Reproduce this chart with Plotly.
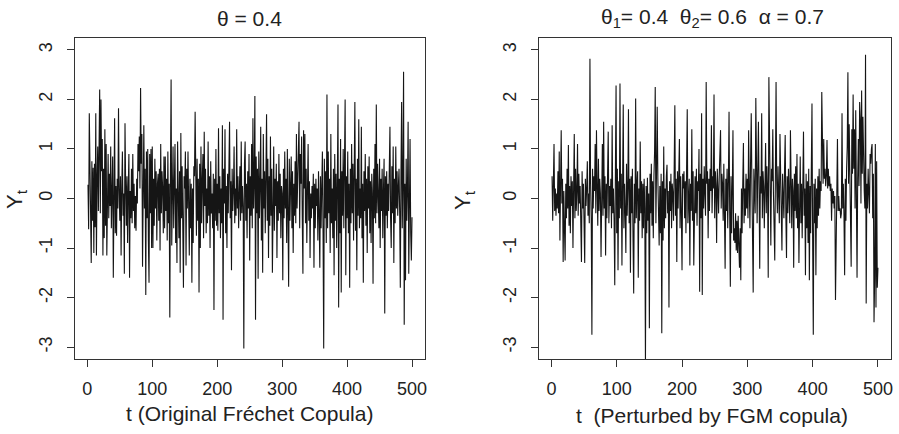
import plotly.graph_objects as go
from plotly.subplots import make_subplots

# time index 1..500
t = list(range(1, 501))

# Y_t, original Frechet copula (20 values per row)
y_frechet = [
    0.28, -0.62, 1.72, 0.15, -0.90, -1.30, 0.75, -0.45, 0.62, -1.10, 0.70, -0.58, 1.72, -1.15, 0.40, 1.05, -0.25, 1.30, 2.20, -0.30,
    2.00, 0.55, 1.20, -1.15, 0.60, -0.80, 1.40, -0.55, 1.10, -1.15, 0.35, 0.90, -0.40, 0.50, -0.15, 1.05, -0.60, 0.20, 0.85, -1.60,
    0.30, 1.62, -0.70, 0.25, -0.75, 0.40, -0.20, 1.82, 0.15, -0.45, 0.45, -1.15, 0.20, 0.95, -0.35, 0.10, -1.52, 1.52, 0.30, -0.55,
    0.45, -0.90, 0.20, 0.90, -1.60, 0.15, -0.40, 0.60, -0.50, 0.90, -0.25, 0.30, -0.60, 0.05, -0.65, 0.40, -0.10, 1.10, 0.55, 1.25,
    0.20, 2.23, 0.70, 1.30, -1.38, 0.45, 1.48, -0.20, 0.60, -1.95, 0.95, -0.40, 1.00, -0.85, -1.70, 0.90, -0.30, 1.00, -1.00, 1.05,
    -1.00, 0.40, -0.55, 0.80, -0.20, 0.55, -0.85, 0.30, 0.50, -0.45, 0.60, -1.05, 1.10, -0.30, 0.55, 0.20, -0.70, 0.85, -0.60, 0.85,
    -0.25, 0.40, -0.85, 0.95, -0.50, 0.30, -2.40, 0.50, 2.40, -0.95, 0.25, 1.05, -0.60, 0.40, 1.10, -0.90, 0.20, -1.30, 1.15, 0.10,
    -0.80, 0.55, -1.50, 1.32, -0.40, 0.65, -1.10, -1.80, 0.45, 0.20, 0.95, -1.35, 0.60, -0.20, 0.95, -0.75, -1.15, 0.40, -0.60, 0.30,
    -1.70, 0.20, -0.90, 0.65, 0.45, 1.75, 0.60, -0.75, 0.80, -0.45, 0.40, -1.90, 0.70, -1.00, 1.05, -0.50, 0.35, 0.90, -0.80, 1.35,
    -0.15, 0.60, -0.70, 0.20, -0.50, 1.15, -0.35, 0.45, -1.00, 0.75, -0.30, 0.10, -0.60, 0.50, -2.25, 0.40, -0.45, 1.00, -0.55, 0.30,
    -0.65, 1.42, -0.30, 0.45, -0.80, 0.20, -0.50, 1.48, -2.45, 0.60, -0.10, 1.40, -0.70, 0.25, -1.00, 0.50, -0.30, 0.80, 1.55, -0.40,
    0.35, -1.45, 0.60, -0.25, 0.15, 1.05, -0.50, 0.20, -0.35, 1.40, -0.20, 0.45, -0.60, 0.10, 0.65, -0.45, 1.15, -0.30, 0.25, -0.15,
    -3.03, 0.70, 1.15, -0.45, 0.30, -0.80, 0.55, -0.20, 0.90, -1.25, 0.45, -0.35, 1.10, -0.60, 1.62, -0.20, 0.40, 2.07, -2.45, 0.85,
    -0.30, 0.60, -1.62, 0.95, -0.40, 0.25, 1.45, -0.85, 0.40, -1.50, 1.30, -0.20, 0.55, -0.70, 0.30, 1.70, -0.45, 0.80, -1.20, 0.45,
    -0.55, 1.25, -0.35, 0.60, -1.50, 0.20, 1.05, -0.65, 0.40, -0.15, 0.70, -1.20, 0.35, -0.45, 0.90, -0.30, 0.50, -0.80, 0.25, 0.10,
    -1.65, 0.60, -0.40, 0.95, -0.20, 0.40, -0.90, 1.00, -0.30, -1.78, 0.80, -0.45, 0.25, 0.85, -0.60, 0.55, -1.10, 0.30, -0.35, 0.75,
    -0.50, 1.30, -0.20, 0.45, 1.00, 1.55, -0.60, 0.90, 0.30, 1.25, -0.40, -1.52, 1.38, 0.20, 1.30, -0.50, 0.60, -0.90, 0.15, 1.10,
    -0.45, 0.35, -1.20, 0.10, -0.40, 0.25, -0.20, 0.50, -1.40, 0.30, -0.60, 0.40, -0.15, 0.20, -0.85, 0.55, -0.30, -1.40, 0.45, -0.60,
    0.25, 0.95, -0.70, -3.03, 0.80, -0.40, 0.55, -0.90, 2.10, -0.60, 0.95, -0.30, 0.40, -1.10, 1.30, -0.50, 0.20, -0.80, 0.60, -1.55,
    0.90, -0.45, 0.50, -1.00, 0.35, 1.90, -2.20, 0.40, -0.70, 1.20, -1.90, 0.55, -0.35, 1.00, -0.60, 0.30, 2.00, -1.55, 0.45, -0.40,
    0.95, -0.70, 0.30, -1.80, 0.60, -0.50, 1.10, -0.30, 0.70, -0.85, 0.25, 1.95, -0.65, 0.40, -1.45, 0.80, -0.35, 1.60, -0.60, 0.20,
    -0.40, 1.45, -0.80, 0.30, -1.70, 0.55, -0.25, 0.90, -0.55, 0.40, -1.10, 0.65, -0.20, 0.85, -0.70, 0.35, -0.90, 0.50, 0.10, -1.72,
    0.60, -0.40, 1.10, -0.50, 1.90, -0.30, 0.70, 0.20, -0.60, 0.80, -1.00, 0.40, -0.25, 0.60, -0.80, 0.15, 0.80, -2.32, 0.45, -0.35,
    0.55, -0.60, 0.30, -0.25, 0.70, 1.45, -0.40, -1.00, 0.65, -0.30, 1.05, -1.30, 0.40, -0.50, 1.05, -0.20, 0.55, -0.35, 0.25, 0.60,
    -0.30, -1.80, 0.50, 1.95, -0.60, 0.40, 2.56, -2.55, 0.30, -1.65, 0.80, -0.45, 0.20, 1.55, -1.52, 0.35, 1.20, -0.70, -1.25, -0.38,
]

# Y_t, perturbed by FGM copula
y_fgm = [
    0.45, -0.45, 0.30, 1.10, -0.25, 0.20, -0.35, 0.10, -0.20, 0.55, -0.30, 0.95, -0.85, 0.20, 1.38, -0.10, 0.40, -1.28, 0.15, -0.60,
    -1.25, 0.30, -0.40, 0.60, -0.20, 1.08, -0.55, 0.25, -0.70, 0.45, -0.15, 0.35, -1.00, 0.20, 1.30, -0.40, 0.60, -0.25, 0.15, 1.10,
    -0.35, 0.50, -0.10, 0.25, -0.60, -1.28, 0.55, -0.20, 0.30, -0.45, -1.30, 0.40, -0.15, 0.20, 0.75, -0.35, 0.10, -0.50, 2.82, 0.30,
    -0.40, -2.75, 0.60, -0.20, 0.45, 0.15, 1.10, -0.30, 1.38, 0.20, -0.55, 0.80, -0.25, 0.40, 0.10, -1.18, 0.50, 1.10, -0.35, 1.55,
    -0.20, 0.45, -1.15, 0.30, -0.40, 0.60, 1.35, -0.50, 0.25, -0.15, 0.40, -0.60, 1.48, -0.30, 0.20, -0.45, -1.75, 0.55, 2.28, -0.70,
    0.60, -1.45, 0.35, -0.40, 2.32, -0.20, 0.50, -1.35, 0.45, 1.90, -0.60, 0.30, -0.25, -1.10, 0.70, -0.35, 0.20, 1.80, -0.50, 0.40,
    -1.50, 0.45, -0.30, 0.60, -0.85, -1.92, 0.30, -0.50, 2.02, -0.40, 0.25, 0.55, -1.60, 0.20, -0.45, 1.15, -0.30, 0.35, -0.80, 0.30,
    -0.60, 0.40, -0.20, -3.30, 0.25, -0.70, 0.42, -0.45, 0.10, -2.62, 0.50, -0.30, 0.70, -0.55, 0.35, -0.80, 0.45, 0.95, 2.25, -0.50,
    0.60, 1.85, 0.40, -0.30, -0.95, 0.25, -0.70, 0.50, -2.72, 0.35, -0.85, 1.05, -0.60, 0.20, -0.40, 0.45, 0.68, -0.30, 0.15, -2.20,
    0.35, -0.25, 0.50, -0.60, 0.30, 0.10, -0.45, 0.60, 1.88, -0.35, 0.40, -1.28, 0.55, -0.20, 0.30, 1.20, -0.60, 0.45, -0.30, -1.45,
    0.50, 0.20, 0.55, -0.40, 0.35, -0.70, 0.60, 1.80, -0.50, 0.25, 0.40, -1.35, 0.30, -0.25, 1.40, -0.45, 0.55, -1.35, 0.20, 0.45,
    -0.30, 0.60, -0.55, 0.35, 0.15, 1.00, -1.88, 0.50, -0.40, 1.72, -1.95, 0.40, -0.20, 0.65, 0.10, -0.35, 2.35, 0.30, 0.55, -0.80,
    0.40, -0.25, 0.60, 0.15, 1.48, -0.30, 0.45, 0.20, 2.10, -0.40, 0.55, 0.25, -0.90, 0.60, 0.15, -0.30, 0.45, 0.80, 1.38, -0.20,
    0.50, 0.30, -0.45, 0.70, -0.10, -1.42, 0.40, -0.25, 0.60, -0.60, 0.35, 1.75, -0.30, -1.78, 0.45, -0.70, 0.20, 1.38, -0.85, -0.60,
    -0.90, -0.30, -1.05, -0.45, -1.10, -0.35, -0.95, -1.40, -0.60, -1.65, 0.20, -0.70, 0.30, 1.12, -0.50, 0.20, -0.35, 0.50, -0.20, 0.40,
    -0.40, 1.38, 0.20, -0.60, 0.75, 1.72, 0.30, -0.45, -1.90, 0.60, 0.25, -0.30, 2.03, 0.40, -0.50, 0.60, 1.55, 0.20, -1.42, 0.45,
    0.10, 1.72, -0.40, 0.55, 0.25, -0.60, 0.40, 1.12, -0.30, 0.65, 0.20, -1.60, 2.45, 0.40, 0.15, -0.95, 0.60, 0.35, 1.40, 0.10,
    -0.40, -1.25, 0.50, 2.35, 0.30, -0.30, 0.65, 0.20, -0.50, 1.30, 0.40, -0.25, -1.05, 0.50, 0.20, -0.40, 0.60, 1.28, -0.35, -1.20,
    0.45, -0.30, 0.60, 0.10, -0.50, 1.38, 0.25, -0.60, 0.40, 0.15, -1.40, 0.50, -0.25, 0.65, -0.40, 0.90, -0.60, 0.30, -1.30, 0.45,
    0.85, -0.50, 0.30, -0.80, 0.40, 1.35, -0.35, 0.20, -1.55, 0.50, -0.60, 0.35, -0.90, 0.60, -1.65, 0.25, -0.70, 0.45, 1.92, -0.80,
    -2.75, 0.30, -0.50, 0.40, -1.55, 0.20, -0.60, 0.45, -0.35, 0.60, -0.20, 0.35, 0.15, 2.15, 0.50, 0.30, 1.20, 0.40, 0.60, 0.25,
    0.45, 1.18, 0.20, 0.60, 0.25, 0.45, 0.15, 0.30, -0.45, 0.20, -0.10, 0.15, -0.20, 0.05, -2.05, -0.30, 0.10, 1.20, -0.25, 0.05,
    -0.25, -0.20, -0.40, -0.30, 1.72, -0.20, 0.30, -0.35, -1.55, 0.40, -0.45, 0.60, 1.05, 2.55, 0.30, 1.50, 0.60, 0.20, -1.38, 1.40,
    0.50, 2.10, 0.60, 1.40, -0.20, 1.78, -0.35, -1.60, 0.40, 1.20, 0.25, 1.95, 1.60, -0.10, 2.18, 0.50, 1.65, 0.30, 0.15, -0.20,
    2.90, -2.12, 0.30, -0.20, 0.60, 0.10, -0.30, 0.90, 0.70, 1.00, 1.10, -0.40, 0.50, -2.50, -1.60, 1.10, -2.20, 0.75, -1.80, -1.40,
]

x_ticks = [0, 100, 200, 300, 400, 500]
y_ticks = [-3, -2, -1, 0, 1, 2, 3]
y_tick_text = ["-3", "-2", "-1", "0", "1", "2", "3"]

W, H = 899, 434
FONT = "Liberation Sans, Arial, Helvetica, sans-serif"
INK = "#222222"

fig = make_subplots(rows=1, cols=2)

fig.add_trace(go.Scatter(x=t, y=y_frechet, mode="lines",
                         line=dict(color="#151515", width=1.1)), row=1, col=1)
fig.add_trace(go.Scatter(x=t, y=y_fgm, mode="lines",
                         line=dict(color="#151515", width=1.1)), row=1, col=2)

axis_common = dict(
    showgrid=False, zeroline=False, automargin=False,
    showline=True, mirror=True, linecolor="#333333", linewidth=1,
    ticks="outside", ticklen=7, tickwidth=1, tickcolor="#333333",
    tickfont=dict(family=FONT, size=18, color=INK),
)

# frame positions in pixels: left 75..425, right 539..891, top 38, bottom 359
fig.update_xaxes(axis_common, range=[-19, 520], tickvals=x_ticks, ticklabelstandoff=6)
fig.update_yaxes(axis_common, range=[-3.24, 3.24], tickvals=y_ticks, ticktext=y_tick_text,
                 tickangle=-90, ticklabelstandoff=8)
fig.update_xaxes(domain=[75 / W, 425 / W], row=1, col=1)
fig.update_xaxes(domain=[539 / W, 891 / W], row=1, col=2)
fig.update_yaxes(domain=[1 - 359 / H, 1 - 38 / H])

def ann(text, x, y, size, angle=0):
    return dict(text=text, x=x / W, y=1 - y / H, xref="paper", yref="paper",
                showarrow=False, textangle=angle, xanchor="center", yanchor="middle",
                font=dict(family=FONT, size=size, color=INK))

annotations = [
    ann("θ = 0.4", 250, 19, 21),
    ann("θ<sub>1</sub>= 0.4  θ<sub>2</sub>= 0.6  α = 0.7", 712, 18, 21),
    ann("t (Original Fréchet Copula)", 250, 413, 21),
    ann("t  (Perturbed by FGM copula)", 712, 415, 21),
    ann("Y<sub>t</sub>", 16, 199, 22, -90),
    ann("Y<sub>t</sub>", 464, 200, 22, -90),
]

fig.update_layout(
    width=W, height=H,
    margin=dict(l=0, r=0, t=0, b=0),
    paper_bgcolor="white", plot_bgcolor="white",
    showlegend=False,
    hovermode=False,
    annotations=annotations,
)

# drop the default body margin so the figure sits at the window origin
fig.write_html(
    "out.html",
    config={"displayModeBar": False},
    post_script="document.body.style.margin='0';document.body.style.overflow='hidden';",
)
